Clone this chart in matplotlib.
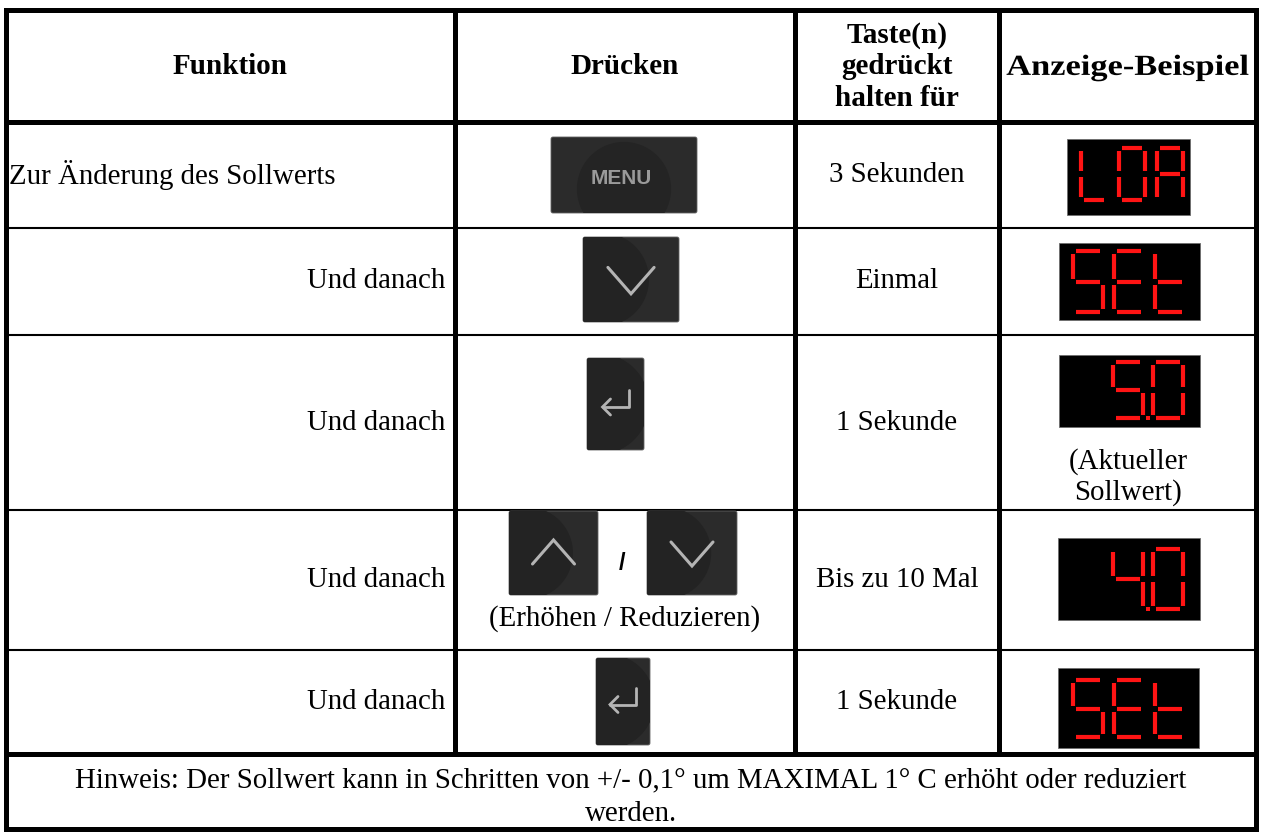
#!/usr/bin/env python3
"""Bedienungstabelle: Sollwert ändern (Tasten + 7-Segment-Anzeige)."""

import matplotlib

matplotlib.use("Agg")
import matplotlib.pyplot as plt
from matplotlib.font_manager import FontProperties
from matplotlib.patches import Circle, FancyBboxPatch, PathPatch, Rectangle
from matplotlib.textpath import TextPath
from matplotlib.transforms import Affine2D

# --- table content -------------------------------------------------------
headers = ["Funktion", "Drücken", "Taste(n)\ngedrückt\nhalten für", "Anzeige-Beispiel"]
funktion = ["Zur Änderung des Sollwerts", "Und danach", "Und danach", "Und danach", "Und danach"]
tasten = ["menu", "down", "enter", "up/down", "enter"]
halten = ["3 Sekunden", "Einmal", "1 Sekunde", "Bis zu 10 Mal", "1 Sekunde"]
anzeige = ["LOA", "SEt", " 5.0", " 4.0", "SEt"]
anzeige_note = ["", "", "(Aktueller\nSollwert)", "", ""]
tasten_note = ["", "", "", "(Erhöhen / Reduzieren)", ""]
hinweis = "Hinweis: Der Sollwert kann in Schritten von +/- 0,1° um MAXIMAL 1° C erhöht oder reduziert\nwerden."

# 7-segment glyphs
SEGMENTS = {
    "L": "def", "O": "abcdef", "0": "abcdef", "A": "abcefg",
    "S": "acdfg", "5": "acdfg", "E": "adefg", "t": "defg", "4": "bcfg", " ": "",
}

# --- layout (pixel coordinates, y downwards) ------------------------------
W, H = 1262, 832
col_x = [6, 455, 795, 999, 1256]
row_y = [10, 122, 228, 335, 510, 650, 754, 829]
FONT = "Liberation Serif"
FS = 20.8
FS_HEAD = 21
RED = "#ff1414"

# button boxes: (x0, y0, x1, y1)
btn_boxes = [
    [(551, 137, 697, 213)],
    [(583, 237, 679, 322)],
    [(587, 358, 644, 450)],
    [(509, 511, 598, 595), (647, 511, 737, 595)],
    [(596, 658, 650, 745)],
]
# display boxes and digit geometry: box, first slot x, top, width, height, pitch
disp_geo = [
    ((1067, 139, 1190, 215), 1081, 148, 26, 52, 38),
    ((1059, 243, 1200, 320), 1073, 251, 30, 61, 41),
    ((1059, 355, 1200, 427), 1073, 362, 30, 56, 40),
    ((1058, 538, 1200, 620), 1073, 549, 30, 60, 40),
    ((1058, 668, 1199, 748), 1073, 680, 30, 57, 41),
]

fig = plt.figure(figsize=(W / 100, H / 100), dpi=100)
ax = fig.add_axes([0, 0, 1, 1])
ax.set_xlim(0, W)
ax.set_ylim(H, 0)
ax.axis("off")


def hline(y, x0, x1, lw):
    ax.plot([x0, x1], [y, y], color="black", lw=lw, solid_capstyle="projecting")


def vline(x, y0, y1, lw):
    ax.plot([x, x], [y0, y1], color="black", lw=lw, solid_capstyle="projecting")


# grid
THICK, THIN = 3.6, 1.5
hline(row_y[0], col_x[0], col_x[-1], THICK)
hline(row_y[1], col_x[0], col_x[-1], THICK)
for y in row_y[2:6]:
    hline(y, col_x[0], col_x[-1], THIN)
hline(row_y[6], col_x[0], col_x[-1], THICK)
hline(row_y[7], col_x[0], col_x[-1], THICK)
vline(col_x[0], row_y[0], row_y[-1], THICK)
vline(col_x[-1], row_y[0], row_y[-1], THICK)
for x in col_x[1:-1]:
    vline(x, row_y[0], row_y[6], THICK)


def stretched_text(cx, cy, s, size_px, sx, weight="bold"):
    # wider-set header text, drawn as a path stretched horizontally
    tp = TextPath((0, 0), s, size=size_px, prop=FontProperties(family=FONT, weight=weight))
    bb = tp.get_extents()
    tr = (Affine2D().translate(-(bb.x0 + bb.x1) / 2, -(bb.y0 + bb.y1) / 2)
          .scale(sx, -1).translate(cx, cy))
    ax.add_patch(PathPatch(tr.transform_path(tp), facecolor="black", edgecolor="none"))


# header
for i, h in enumerate(headers):
    cx = (col_x[i] + col_x[i + 1]) / 2
    cy = (row_y[0] + row_y[1]) / 2 + 1
    if i == 3:
        stretched_text(cx, cy + 1, h, FS_HEAD * 100 / 72, 1.18)
        continue
    ax.text(cx, cy, h, ha="center", va="center", family=FONT, fontsize=FS_HEAD,
            fontweight="bold", linespacing=1.2)


def button(box, menu=False):
    x0, y0, x1, y1 = box
    p = FancyBboxPatch((x0, y0), x1 - x0, y1 - y0, boxstyle="round,pad=0,rounding_size=2",
                       facecolor="#2b2b2b", edgecolor="#626262", lw=0.6, zorder=2)
    ax.add_patch(p)
    if menu:
        c = Circle(((x0 + x1) / 2, (y0 + y1) / 2 + 14), (y1 - y0) * 0.62,
                   facecolor="#242424", edgecolor="none", zorder=2.1)
    else:
        c = Circle((x0 + (x1 - x0) * 0.2, (y0 + y1) / 2), (y1 - y0) * 0.55,
                   facecolor="#232323", edgecolor="none", zorder=2.1)
    c.set_clip_path(p)
    ax.add_patch(c)
    return (x0 + x1) / 2, (y0 + y1) / 2


def chevron(cx, cy, up, s=1.0):
    dy = -1 if up else 1
    xs = [cx - 21 * s, cx, cx + 21 * s]
    ys = [cy - dy * 11 * s, cy + dy * 13 * s, cy - dy * 11 * s]
    ax.plot(xs, ys, color="#b4b4b4", lw=2.2, solid_capstyle="round",
            solid_joinstyle="miter", zorder=3)


def enter(cx, cy):
    ax.plot([cx + 13, cx + 13, cx - 13], [cy - 14, cy + 3, cy + 3], color="#b4b4b4",
            lw=2.0, solid_capstyle="round", zorder=3)
    ax.plot([cx - 5, cx - 13, cx - 5], [cy - 5, cy + 3, cy + 11], color="#b4b4b4",
            lw=2.0, solid_capstyle="round", solid_joinstyle="miter", zorder=3)


def digit(x0, y0, w, h, ch):
    g = 3
    m = y0 + h / 2
    segs = {
        "a": ([x0 + g, x0 + w - g], [y0, y0]),
        "b": ([x0 + w, x0 + w], [y0 + g, m - g]),
        "c": ([x0 + w, x0 + w], [m + g, y0 + h - g]),
        "d": ([x0 + g, x0 + w - g], [y0 + h, y0 + h]),
        "e": ([x0, x0], [m + g, y0 + h - g]),
        "f": ([x0, x0], [y0 + g, m - g]),
        "g": ([x0 + g, x0 + w - g], [m, m]),
    }
    for s in SEGMENTS[ch]:
        xs, ys = segs[s]
        ax.plot(xs, ys, color=RED, lw=3.0, solid_capstyle="butt", zorder=4)


def display(geo, text):
    (bx0, by0, bx1, by1), sx, top, w, h, pitch = geo
    ax.add_patch(Rectangle((bx0, by0), bx1 - bx0, by1 - by0, facecolor="black",
                           edgecolor="#6e6e6e", lw=0.6, zorder=2))
    slot = 0
    for ch in text:
        if ch == ".":
            px = sx + (slot - 1) * pitch + w + (pitch - w) / 2
            ax.add_patch(Rectangle((px - 2, top + h - 2), 4, 4, facecolor=RED,
                                   edgecolor="none", zorder=4))
            continue
        digit(sx + slot * pitch, top, w, h, ch)
        slot += 1


for i in range(len(funktion)):
    ytop, ybot = row_y[i + 1], row_y[i + 2]
    yc = (ytop + ybot) / 2
    # Funktion
    if i == 0:
        ax.text(col_x[0] + 3, yc, funktion[i], ha="left", va="center", family=FONT, fontsize=FS)
    else:
        ax.text(col_x[1] - 10, yc, funktion[i], ha="right", va="center", family=FONT, fontsize=FS)

    # Drücken
    boxes = btn_boxes[i]
    if tasten[i] == "menu":
        cx, cy = button(boxes[0], menu=True)
        ax.text(cx - 3, cy + 4, "MENU", ha="center", va="center", family="Liberation Sans",
                fontweight="bold", fontsize=15, color="#9a9a9a", zorder=3)
    elif tasten[i] == "down":
        cx, cy = button(boxes[0])
        chevron(cx, cy, up=False, s=1.1)
    elif tasten[i] == "enter":
        cx, cy = button(boxes[0])
        enter(cx, cy)
    else:
        cx, cy = button(boxes[0])
        chevron(cx, cy, up=True)
        cx2, cy2 = button(boxes[1])
        chevron(cx2, cy2, up=False)
        ax.text((boxes[0][2] + boxes[1][0]) / 2, cy + 10, "/", ha="center", va="center",
                family="Liberation Sans", fontweight="bold", fontsize=17)
    if tasten_note[i]:
        ax.text((col_x[1] + col_x[2]) / 2, 619, tasten_note[i], ha="center", va="center",
                family=FONT, fontsize=FS)

    # halten
    ax.text((col_x[2] + col_x[3]) / 2, yc, halten[i], ha="center", va="center",
            family=FONT, fontsize=FS)

    # Anzeige
    display(disp_geo[i], anzeige[i])
    if anzeige_note[i]:
        ax.text(1128, 477, anzeige_note[i], ha="center", va="center", family=FONT,
                fontsize=FS, linespacing=1.22)

# footer
ax.text(W / 2, (row_y[6] + row_y[7]) / 2 + 6, hinweis, ha="center", va="center",
        family=FONT, fontsize=FS, linespacing=1.38)

fig.savefig("out.png", dpi=100)
